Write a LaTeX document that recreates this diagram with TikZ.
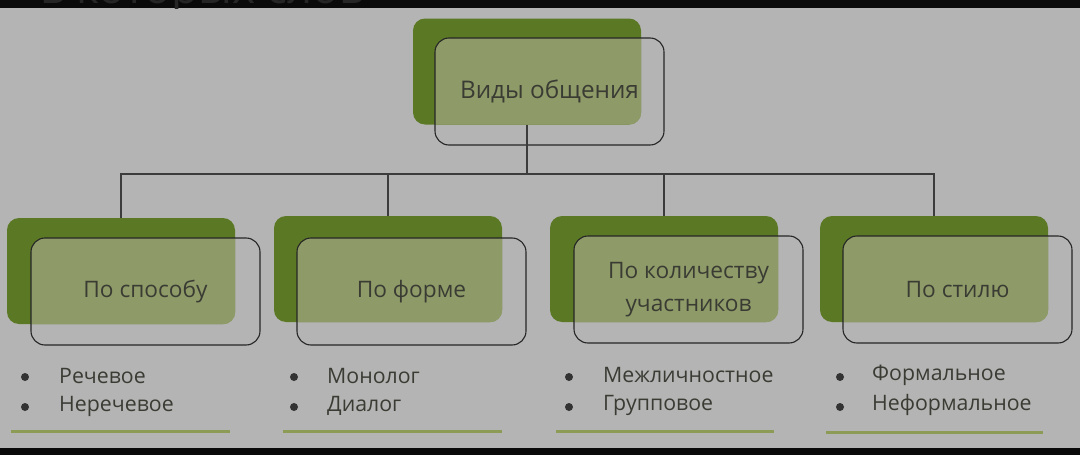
\documentclass[tikz,border=0pt]{standalone}
\usepackage{fontspec}
\setmainfont{Open Sans}
\definecolor{bg}{RGB}{180,180,180}
\definecolor{dkgreen}{RGB}{91,121,36}
\definecolor{ltgreen}{RGB}{142,155,104}
\definecolor{txt}{RGB}{58,60,52}
\definecolor{uline}{RGB}{140,156,86}
\definecolor{ink}{RGB}{60,60,60}
\definecolor{ghostc}{RGB}{38,38,38}
\begin{document}
\begin{tikzpicture}[x=1pt,y=-1pt,
  gbox/.style={fill=dkgreen, rounded corners=12pt, minimum width=228pt, minimum height=106pt, inner sep=0pt},
  obox/.style={draw=black!85, line width=1.1pt, rounded corners=14pt, minimum width=229pt, minimum height=107pt, inner sep=0pt, text=txt, font=\fontsize{22.7}{33}\selectfont, align=center},
  conn/.style={draw=ink, line width=1.1pt},
  item/.style={anchor=west, inner sep=0pt, text=txt, font=\fontsize{21.3}{25}\selectfont},
  dot/.style={circle, fill=black!80, minimum size=8pt, inner sep=0pt},
  under/.style={draw=uline, line width=3pt}]
\useasboundingbox (0,0) rectangle (1080,455);
\fill[bg] (0,0) rectangle (1080,455);
\fill[black!96] (0,0) rectangle (1080,8);
\fill[black!96] (0,448) rectangle (1080,455);
\begin{scope}
\clip (0,0) rectangle (1080,8);
\node[anchor=base west, inner sep=0pt, text=ghostc, font=\fontsize{44}{48}\selectfont] (ghost) at (40,4) {в которых слов};
\end{scope}
% green boxes
\node[gbox] (g0) at (527,71.5) {};
\node[gbox] (g1) at (121,271) {};
\node[gbox] (g2) at (388,269) {};
\node[gbox] (g3) at (664,269) {};
\node[gbox] (g4) at (934,269) {};
% light overlaps
\foreach \g/\cx/\cy in {g0/549.5/91.5, g1/145.5/291.5, g2/411.5/291.5, g3/688.5/289.5, g4/957.5/289.5}{
  \begin{scope}
    \clip[rounded corners=12pt] (\g.south west) rectangle (\g.north east);
    \fill[ltgreen, rounded corners=14pt] (\cx-114.5,\cy-53.5) rectangle (\cx+114.5,\cy+53.5);
  \end{scope}
}
% outline boxes with text
\node[obox, font=\fontsize{24.3}{29}\selectfont] (o0) at (549.5,91.5) {Виды общения};
\node[obox] (o1) at (145.5,291.5) {По способу};
\node[obox] (o2) at (411.5,291.5) {По форме};
\node[obox] (o3) at (688.5,289.5) {По количеству\\участников};
\node[obox] (o4) at (957.5,289.5) {По стилю};
% connectors
\coordinate (bus) at (0,174);
\draw[conn] (g0.south) -- (g0.south |- bus);
\draw[conn] (g1.north) -- (g1.north |- bus) -| (g4.north);
\draw[conn] (g2.north) -- (g2.north |- bus);
\draw[conn] (g3.north) -- (g3.north |- bus);
% bullets
\foreach \n/\bx in {1/25, 2/294, 3/569, 4/840}{
  \node[dot] (d\n a) at (\bx,377) {};
  \node[dot] (d\n b) at (\bx,407) {};
}
\node[item] (t1a) at (59,376) {Речевое};
\node[item] (t1b) at (59,406) {Неречевое};
\node[item] (t2a) at (327,376) {Монолог};
\node[item] (t2b) at (327,406) {Диалог};
\node[item] (t3a) at (603,375) {Межличностное};
\node[item] (t3b) at (603,405) {Групповое};
\node[item] (t4a) at (872,375) {Формальное};
\node[item] (t4b) at (872,405) {Неформальное};
% underlines
\coordinate (u1a) at (11,431); \coordinate (u1b) at (230,431);
\coordinate (u2a) at (283,431); \coordinate (u2b) at (502,431);
\coordinate (u3a) at (556,431); \coordinate (u3b) at (774,431);
\coordinate (u4a) at (826,432); \coordinate (u4b) at (1043,432);
\draw[under] (u1a) -- (u1b);
\draw[under] (u2a) -- (u2b);
\draw[under] (u3a) -- (u3b);
\draw[under] (u4a) -- (u4b);
\end{tikzpicture}
\end{document}
